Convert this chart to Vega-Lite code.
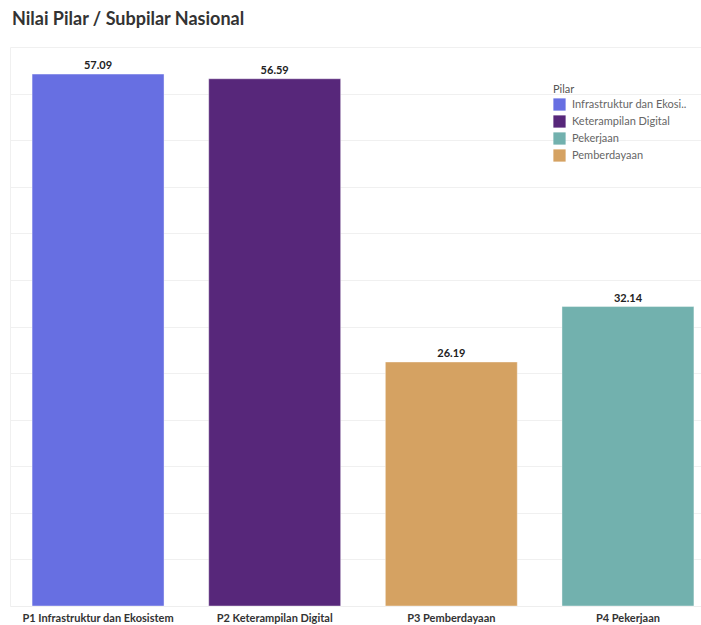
{
  "$schema": "https://vega.github.io/schema/vega-lite/v6.json",
  "width": 691,
  "height": 559,
  "autosize": {"type": "none"},
  "padding": {"left": 10, "top": 47, "right": 0, "bottom": 19},
  "background": "white",
  "title": {
    "text": "Nilai Pilar / Subpilar Nasional",
    "anchor": "start",
    "frame": "group",
    "orient": "top",
    "baseline": "bottom",
    "offset": 17,
    "dx": 2,
    "dy": 17,
    "font": "Lato",
    "fontSize": 18,
    "fontWeight": "bold",
    "color": "#333333"
  },
  "config": {
    "view": {"stroke": null},
    "font": "Lato"
  },
  "data": {
    "values": [
      {"kategori": "P1 Infrastruktur dan Ekosistem", "pilar": "Infrastruktur dan Ekosistem", "nilai": 57.09},
      {"kategori": "P2 Keterampilan Digital", "pilar": "Keterampilan Digital", "nilai": 56.59},
      {"kategori": "P3 Pemberdayaan", "pilar": "Pemberdayaan", "nilai": 26.19},
      {"kategori": "P4 Pekerjaan", "pilar": "Pekerjaan", "nilai": 32.14}
    ]
  },
  "encoding": {
    "x": {
      "field": "kategori",
      "type": "nominal",
      "sort": null,
      "scale": {"range": [0, 706], "paddingInner": 0.253, "paddingOuter": 0.125},
      "axis": {
        "title": null,
        "labelAngle": 0,
        "ticks": false,
        "domain": true,
        "domainColor": "#eeeeee",
        "labelPadding": 6,
        "labelFont": "Lato",
        "labelFontSize": 11,
        "labelFontWeight": "bold",
        "labelColor": "#333333",
        "labelLimit": 250
      }
    },
    "y": {
      "field": "nilai",
      "type": "quantitative",
      "scale": {"domain": [0, 60], "nice": false},
      "axis": {
        "title": null,
        "labels": false,
        "ticks": false,
        "domain": true,
        "domainColor": "#f0f0f0",
        "grid": true,
        "gridColor": "#f0f0f0",
        "values": [0, 5, 10, 15, 20, 25, 30, 35, 40, 45, 50, 55, 60]
      }
    }
  },
  "layer": [
    {
      "mark": {"type": "bar", "stroke": "white", "strokeOpacity": 0.4, "strokeWidth": 1},
      "encoding": {
        "color": {
          "field": "pilar",
          "type": "nominal",
          "scale": {
            "domain": ["Infrastruktur dan Ekosistem", "Keterampilan Digital", "Pekerjaan", "Pemberdayaan"],
            "range": ["#676fe2", "#57277a", "#72b1ae", "#d5a262"]
          },
          "legend": {
            "title": "Pilar",
            "orient": "none",
            "legendX": 543,
            "legendY": 37,
            "symbolType": "square",
            "symbolSize": 150,
            "symbolStrokeWidth": 0,
            "titleFont": "Lato",
            "titleFontSize": 11,
            "titleFontWeight": "normal",
            "titleColor": "#555555",
            "titlePadding": 3,
            "labelFont": "Lato",
            "labelFontSize": 11,
            "labelColor": "#666666",
            "labelOffset": 6,
            "rowPadding": 4,
            "labelLimit": 200,
            "labelExpr": "datum.label == 'Infrastruktur dan Ekosistem' ? 'Infrastruktur dan Ekosi..' : datum.label"
          }
        }
      }
    },
    {
      "mark": {"type": "text", "baseline": "bottom", "dy": -3, "font": "Lato", "fontSize": 11, "fontWeight": "bold", "color": "#222222"},
      "encoding": {
        "text": {"field": "nilai", "type": "quantitative", "format": ".2f"}
      }
    }
  ]
}
